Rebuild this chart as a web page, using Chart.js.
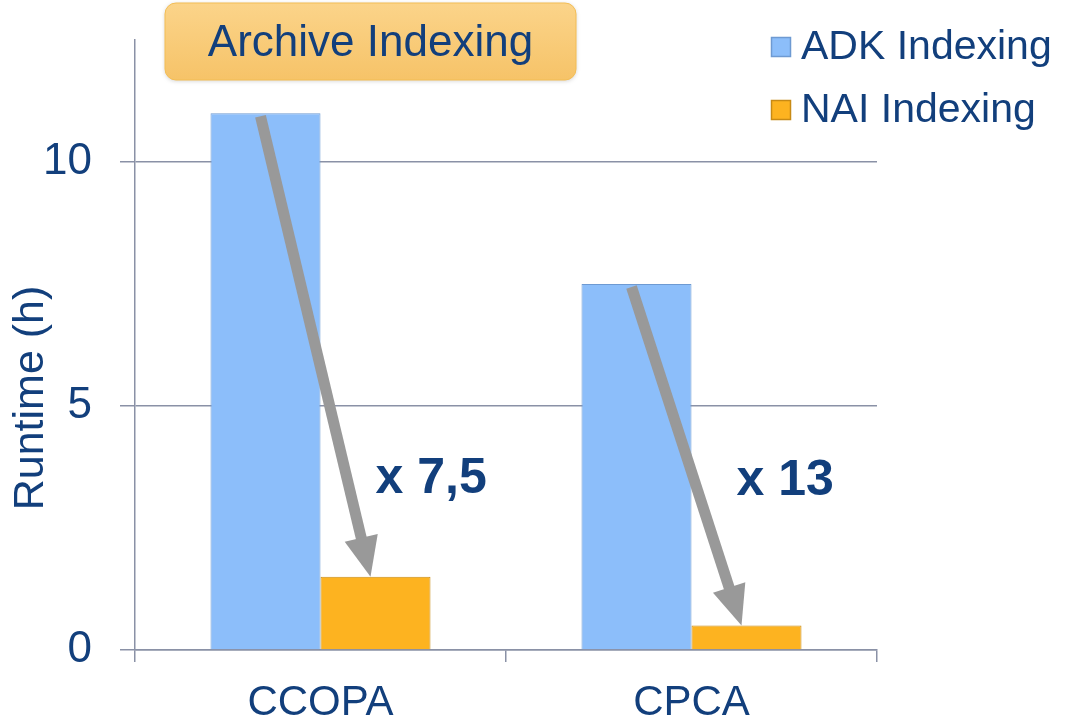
<!DOCTYPE html>
<html><head><meta charset="utf-8">
<script src="https://cdn.jsdelivr.net/npm/chart.js@4/dist/chart.umd.min.js"></script>
<style>html,body{margin:0;padding:0;background:#fff}#wrap{width:1066px;height:721px}</style>
</head><body><div id="wrap"><canvas id="c" width="1066" height="721"></canvas></div>
<script>
const categories = ['CCOPA', 'CPCA'];
const adkValues = [11, 7.5];
const naiValues = [1.5, 0.5];
const seriesNames = ['ADK Indexing', 'NAI Indexing'];
const speedupLabels = ['x 7,5', 'x 13'];
const speedupLabelY = [3.5, 3.45];
const yTicks = [0, 5, 10];
const yMax = 12.5;
const chartTitle = 'Archive Indexing';
const yTitle = 'Runtime (h)';

const TEXT = '#123F7C';
const AXIS = '#8A91A6';
const FONT = '"Liberation Sans", Arial, sans-serif';
const barColors = ['#8CBEFA', '#FDB320'];
const barBorders = ['#6E9AD2', '#C88A15'];

const overlay = {
  id: 'overlay',
  afterDraw(chart) {
    const ctx = chart.ctx;
    const m0 = chart.getDatasetMeta(0).data;
    const m1 = chart.getDatasetMeta(1).data;
    const labelDx = [0, -10];
    // arrows
    for (let i = 0; i < categories.length; i++) {
      const a = m0[i], b = m1[i];
      const sx = a.x - 5, sy = a.y + 3;
      const ex = b.x - 5, ey = b.y;
      const ang = Math.atan2(ey - sy, ex - sx);
      const headLen = 40, headW = 17;
      const bx = ex - headLen * Math.cos(ang), by = ey - headLen * Math.sin(ang);
      ctx.save();
      ctx.strokeStyle = '#999999';
      ctx.fillStyle = '#999999';
      ctx.lineWidth = 11;
      ctx.beginPath();
      ctx.moveTo(sx, sy);
      ctx.lineTo(bx + 2 * Math.cos(ang), by + 2 * Math.sin(ang));
      ctx.stroke();
      ctx.beginPath();
      ctx.moveTo(ex, ey);
      ctx.lineTo(bx + headW * Math.sin(ang), by - headW * Math.cos(ang));
      ctx.lineTo(bx - headW * Math.sin(ang), by + headW * Math.cos(ang));
      ctx.closePath();
      ctx.fill();
      ctx.restore();
      // speedup label
      ctx.save();
      ctx.font = 'bold 50px ' + FONT;
      ctx.fillStyle = TEXT;
      ctx.textAlign = 'left';
      ctx.textBaseline = 'middle';
      ctx.fillText(speedupLabels[i], b.x + labelDx[i], chart.scales.y.getPixelForValue(speedupLabelY[i]));
      ctx.restore();
    }
    // title box
    ctx.save();
    const tx = 165, ty = 3, tw = 411, th = 77, r = 11;
    ctx.shadowColor = 'rgba(0,0,0,0.18)';
    ctx.shadowBlur = 4;
    ctx.shadowOffsetY = 1;
    const g = ctx.createLinearGradient(0, ty, 0, ty + th);
    g.addColorStop(0, '#FBD48A');
    g.addColorStop(1, '#F6C368');
    ctx.fillStyle = g;
    ctx.beginPath();
    ctx.roundRect(tx, ty, tw, th, r);
    ctx.fill();
    ctx.shadowColor = 'transparent';
    ctx.strokeStyle = '#F3BD55';
    ctx.lineWidth = 1;
    ctx.stroke();
    ctx.font = '44px ' + FONT;
    ctx.fillStyle = TEXT;
    ctx.textAlign = 'center';
    ctx.textBaseline = 'middle';
    ctx.fillText(chartTitle, tx + tw / 2, ty + th / 2 + 2);
    ctx.restore();
    // legend
    ctx.save();
    const legY = [47, 110];
    for (let i = 0; i < seriesNames.length; i++) {
      ctx.fillStyle = barColors[i];
      ctx.fillRect(771, legY[i] - 10, 20, 20);
      ctx.strokeStyle = barBorders[i];
      ctx.lineWidth = 1.5;
      ctx.strokeRect(771.5, legY[i] - 9.5, 19, 19);
      ctx.font = '41px ' + FONT;
      ctx.fillStyle = TEXT;
      ctx.textAlign = 'left';
      ctx.textBaseline = 'middle';
      ctx.fillText(seriesNames[i], 801, legY[i] + 1);
    }
    ctx.restore();
    // y title
    ctx.save();
    ctx.translate(31, 398);
    ctx.rotate(-Math.PI / 2);
    ctx.font = '43px ' + FONT;
    ctx.fillStyle = TEXT;
    ctx.textAlign = 'center';
    ctx.textBaseline = 'middle';
    ctx.fillText(yTitle, 0, 0);
    ctx.restore();
  }
};

new Chart(document.getElementById('c'), {
  type: 'bar',
  data: {
    labels: categories,
    datasets: [
      { label: seriesNames[0], data: adkValues, backgroundColor: barColors[0], borderColor: barBorders[0], borderWidth: 1 },
      { label: seriesNames[1], data: naiValues, backgroundColor: barColors[1], borderColor: barBorders[1], borderWidth: 1 }
    ]
  },
  options: {
    responsive: false,
    animation: false,
    devicePixelRatio: 1,
    layout: { padding: { top: 40, right: 189, left: 0, bottom: 0 } },
    datasets: { bar: { categoryPercentage: 0.593, barPercentage: 1 } },
    plugins: { legend: { display: false }, title: { display: false }, tooltip: { enabled: false } },
    scales: {
      x: {
        afterFit(s) { s.height = 71; s.paddingLeft = 0; s.paddingRight = 0; },
        grid: { display: true, drawOnChartArea: false, drawTicks: true, tickLength: 12, color: AXIS, lineWidth: 1.5, offset: true },
        border: { display: true, color: AXIS, width: 1.5 },
        ticks: { font: { size: 42, family: FONT }, color: TEXT, padding: 16 }
      },
      y: {
        min: 0, max: yMax,
        z: 1,
        afterFit(s) { s.width = 135; s.paddingTop = 0; s.paddingBottom = 0; },
        afterBuildTicks(s) { s.ticks = yTicks.map(v => ({ value: v })); },
        grid: { color: AXIS, lineWidth: 1.5, tickLength: 15, drawTicks: true },
        border: { display: true, color: AXIS, width: 1.5 },
        ticks: { font: { size: 44, family: FONT }, color: TEXT, padding: 28 }
      }
    }
  },
  plugins: [overlay]
});
</script>
</body></html>
